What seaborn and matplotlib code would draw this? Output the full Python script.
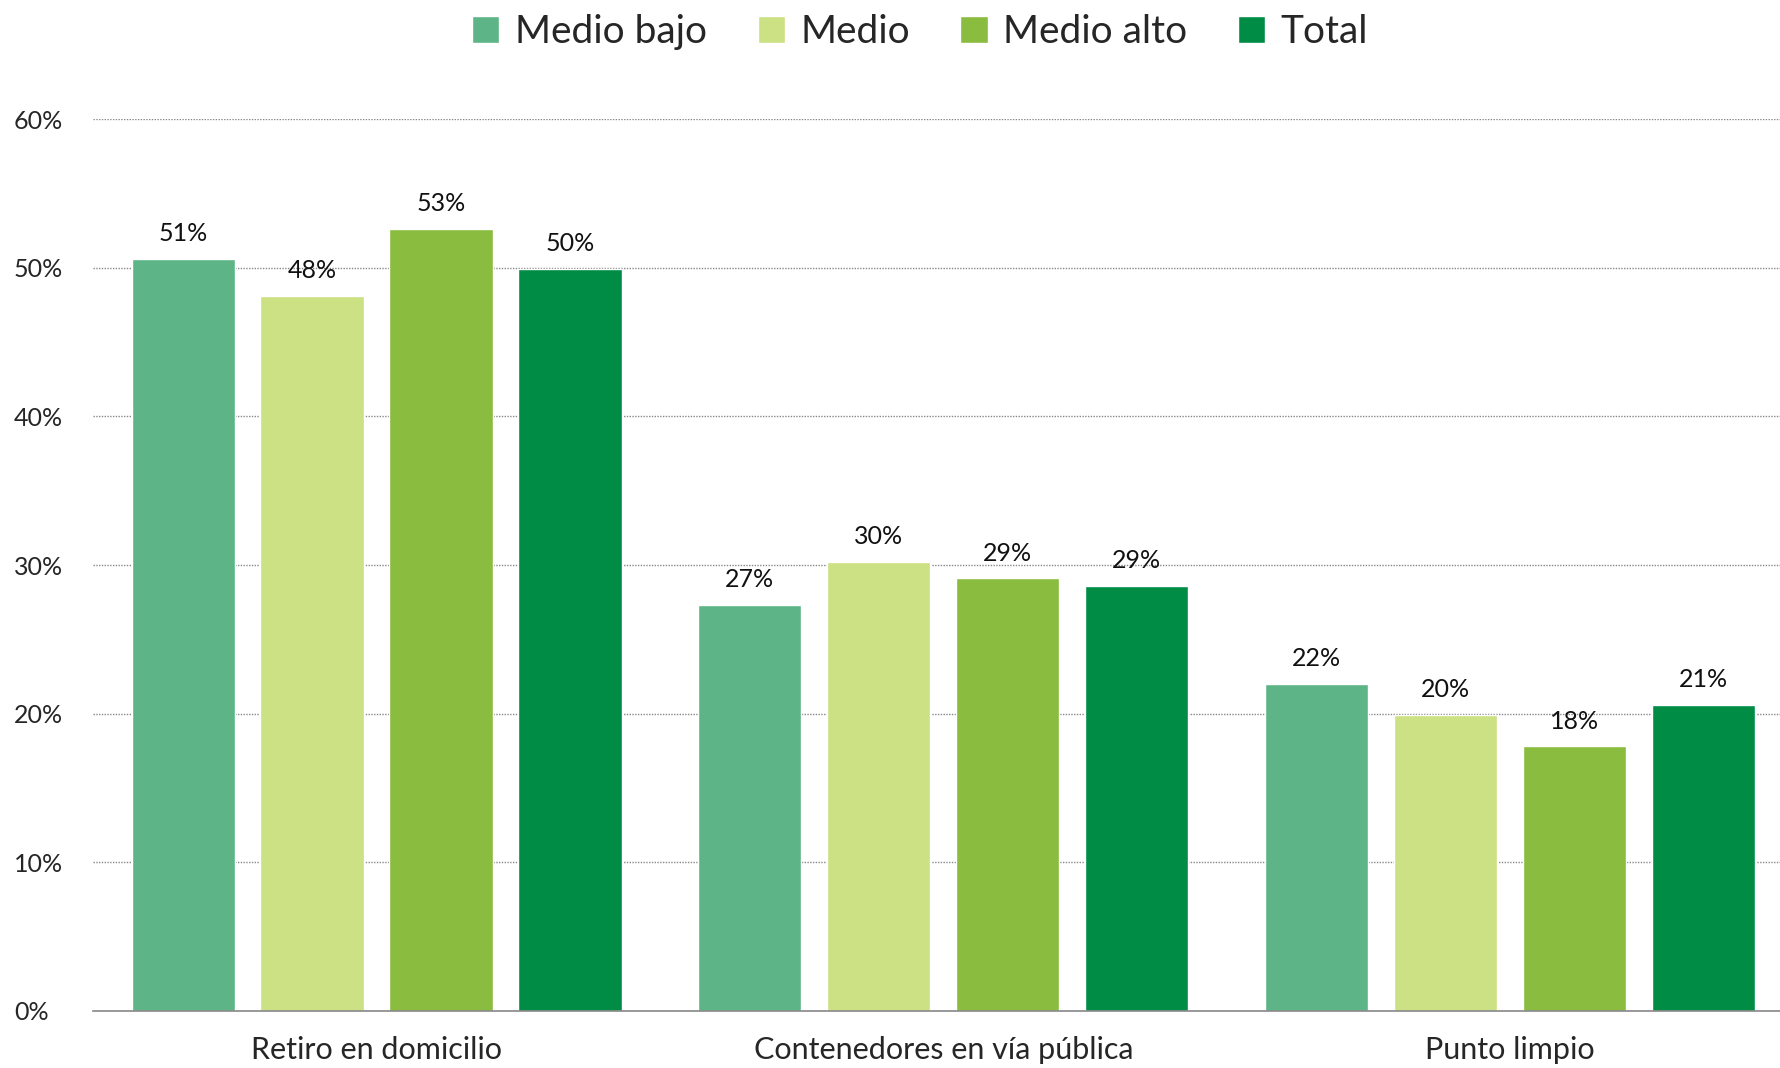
import pandas as pd
import matplotlib.pyplot as plt
import seaborn as sns
from matplotlib.ticker import PercentFormatter

# data (percent)
categories = ["Retiro en domicilio", "Contenedores en vía pública", "Punto limpio"]
groups = ["Medio bajo", "Medio", "Medio alto", "Total"]
medio_bajo = [50.6, 27.3, 22.0]
medio = [48.1, 30.2, 19.9]
medio_alto = [52.6, 29.1, 17.8]
total = [49.9, 28.6, 20.6]
colors = ["#5DB587", "#CBE183", "#8ABD3F", "#008C45"]

rows = []
for g, vals in zip(groups, [medio_bajo, medio, medio_alto, total]):
    for c, v in zip(categories, vals):
        rows.append({"Categoria": c, "Grupo": g, "Valor": v})
df = pd.DataFrame(rows)

sns.set_style("white")
plt.rcParams["font.family"] = ["Lato", "DejaVu Sans"]

fig = plt.figure(figsize=(17.81, 10.68), dpi=100)
ax = fig.add_axes([0.0523, 0.0534, 0.9477, 0.835])

sns.barplot(data=df, x="Categoria", y="Valor", hue="Grupo", order=categories,
            hue_order=groups, palette=colors, width=0.91, gap=0.2,
            saturation=1, ax=ax, legend=True)

for cont in ax.containers:
    ax.bar_label(cont, labels=[f"{round(v):.0f}%" for v in cont.datavalues],
                 padding=10, fontsize=18, color="#111111")

ax.set_ylim(0, 60)
ax.set_xlim(-0.5, 2.478)
ax.yaxis.set_major_formatter(PercentFormatter(decimals=0))
ax.set_yticks(range(0, 61, 10))
ax.yaxis.grid(True, linestyle=(0, (1, 1)), color="#888888", linewidth=1)
ax.set_axisbelow(True)
ax.tick_params(axis="y", labelsize=18, length=0, pad=57)
ax.tick_params(axis="x", labelsize=22, length=0, pad=18)
for lab in ax.get_yticklabels():
    lab.set_horizontalalignment("left")
ax.set_xlabel("")
ax.set_ylabel("")
for s in ["top", "right", "left"]:
    ax.spines[s].set_visible(False)
ax.spines["bottom"].set_color("#888888")
ax.spines["bottom"].set_linewidth(1.2)

handles, labels = ax.get_legend_handles_labels()
ax.legend(handles, labels, loc="upper center", bbox_to_anchor=(0.49, 1.157),
          ncol=4, frameon=False, fontsize=28, handlelength=0.7, handleheight=0.7,
          handletextpad=0.4, columnspacing=1.3)

fig.savefig("out.png", dpi=100)
